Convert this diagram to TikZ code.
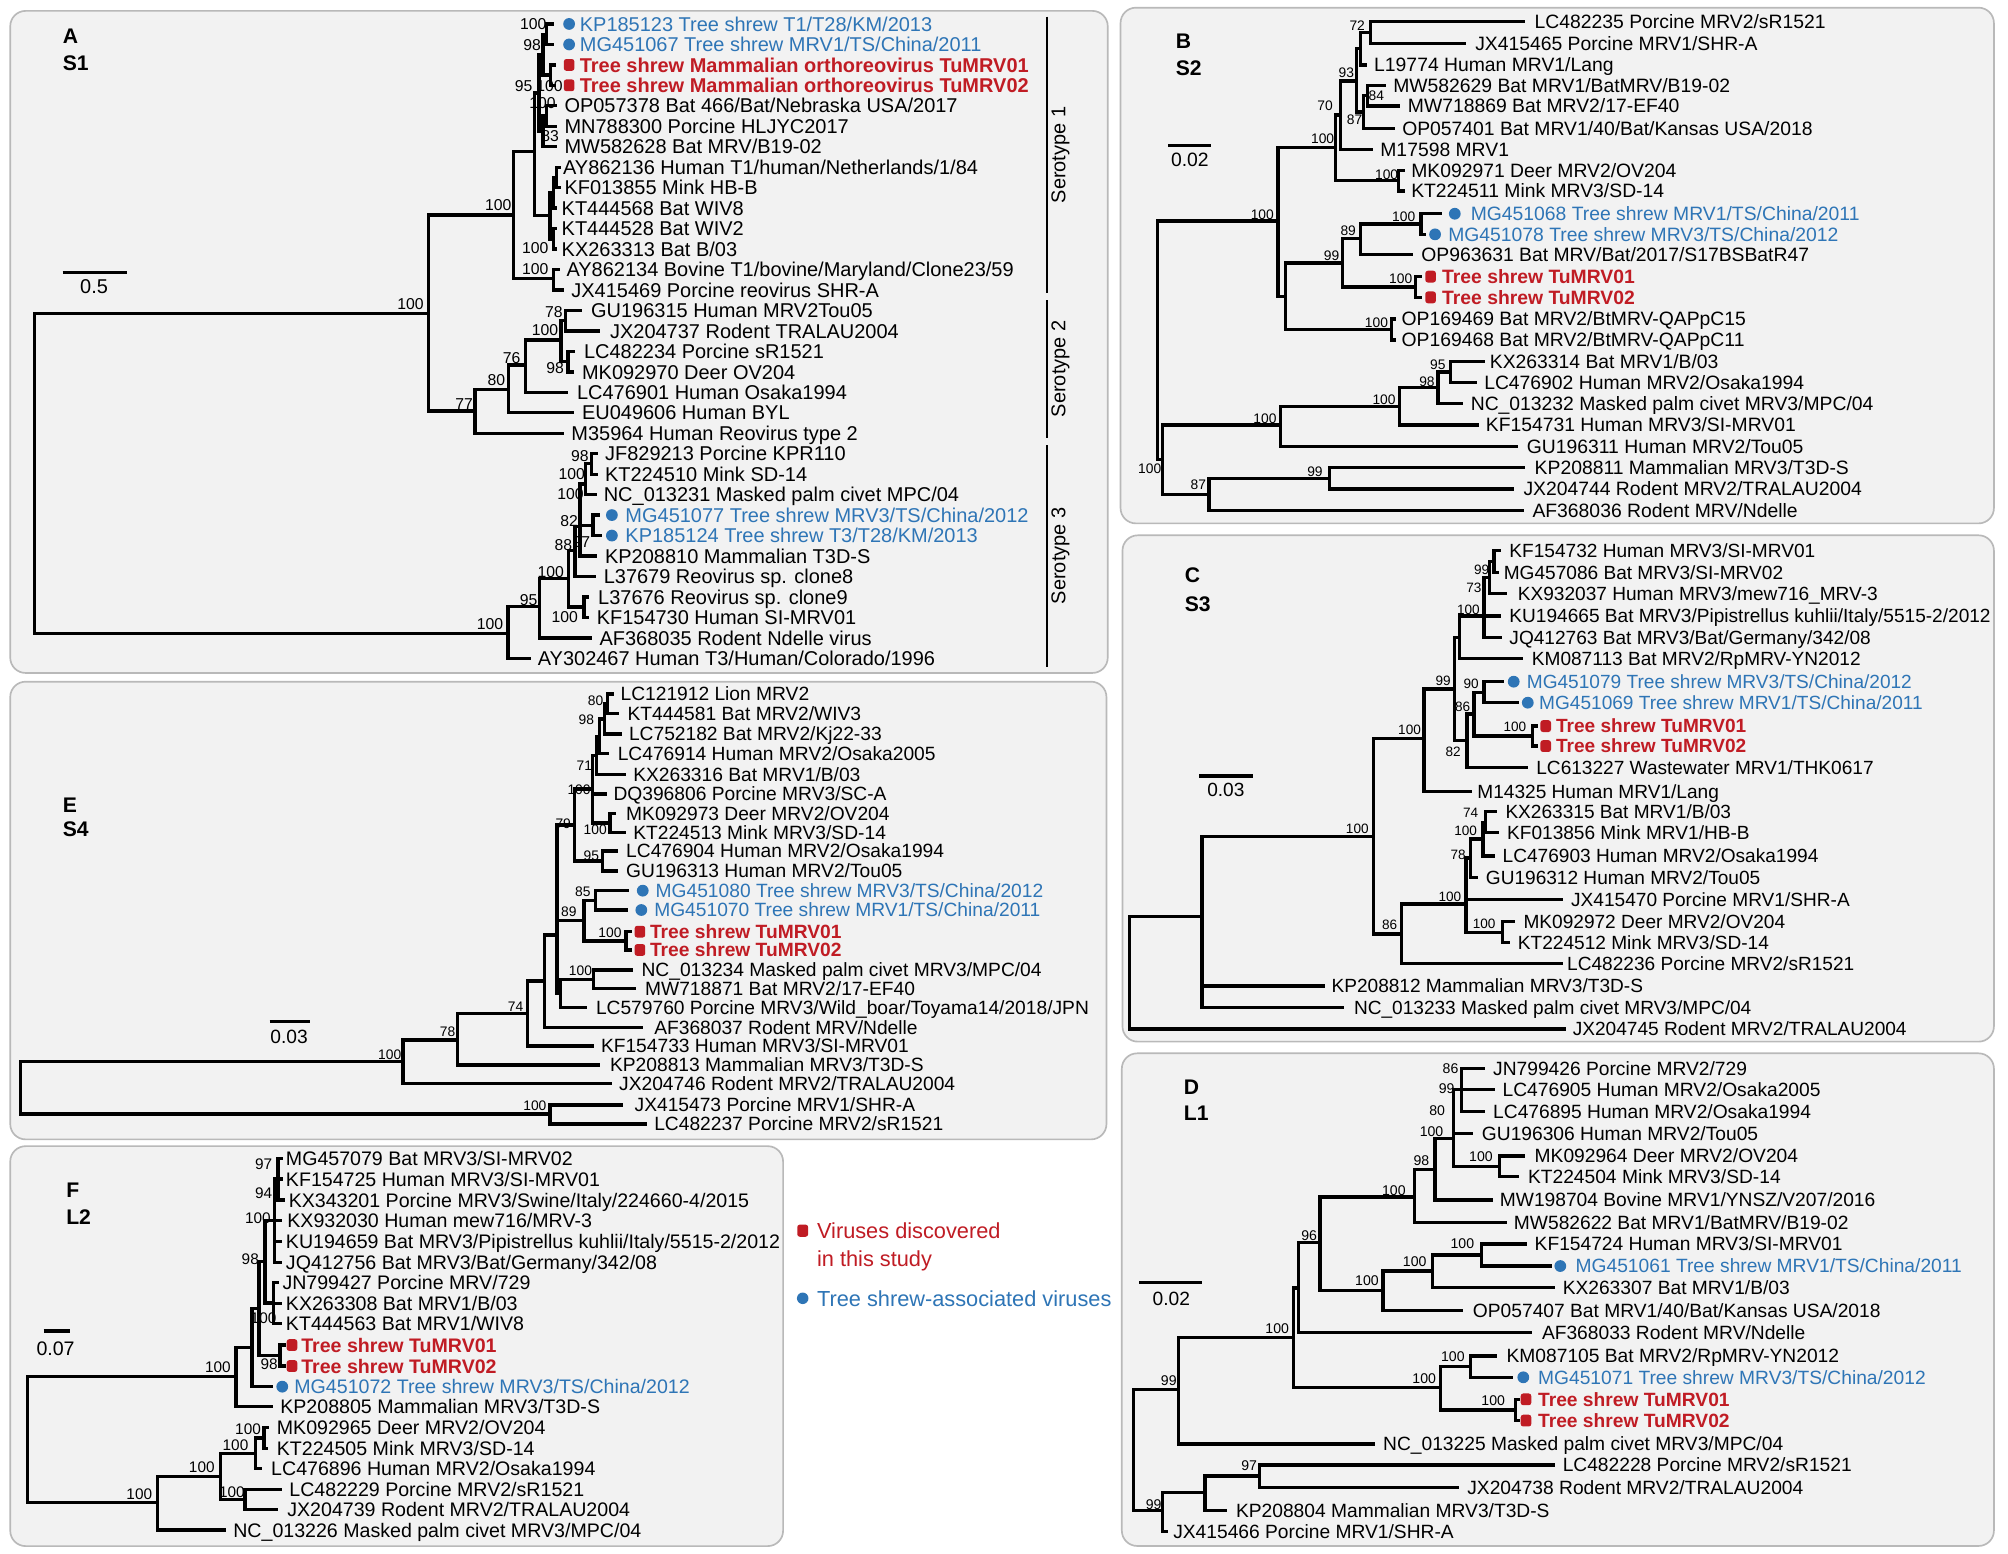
\documentclass[tikz,border=0pt]{standalone}
\usepackage{fontspec}
\setmainfont{Liberation Sans}
\definecolor{tsred}{RGB}{192,28,36}
\definecolor{tsblue}{RGB}{46,117,182}
\definecolor{panelfill}{RGB}{242,242,242}
\definecolor{panelline}{RGB}{185,185,185}
\newcounter{nc}
\def\lffont{\fontsize{15}{18}\selectfont}
\def\bsfont{\fontsize{10}{12}\selectfont}
\def\lsh{5.4}
\def\bsh{3.6}
\tikzset{
  tree/.style={line width=2.6pt, line cap=rect, line join=miter},
  leaf/.style={anchor=base west, inner sep=0pt, font=\lffont},
  bsl/.style={anchor=base east, inner sep=0pt, font=\bsfont},
  panel/.style={draw=panelline, fill=panelfill, line width=1.3pt, rounded corners=12pt},
  plet/.style={anchor=base west, inner sep=0pt, font=\bfseries\fontsize{16.5}{19}\selectfont},
  rdot/.style={fill=tsred, rounded corners=2pt, minimum width=8.3pt, minimum height=9.2pt, inner sep=0pt},
  bdot/.style={fill=tsblue, circle, minimum size=9.2pt, inner sep=0pt},
  sbar/.style={line width=2.6pt},
}
\newcommand\lfk[3]{\stepcounter{nc}\node[leaf] (n\arabic{nc}) at (#1,#2+\lsh) {#3};}
\newcommand\lfb[4]{\stepcounter{nc}\node[bdot] (d\arabic{nc}) at (#1,#2) {};\node[leaf,text=tsblue] (n\arabic{nc}) at (#3,#2+\lsh) {#4};}
\newcommand\lfr[4]{\stepcounter{nc}\node[rdot] (d\arabic{nc}) at (#1,#2) {};\node[leaf,text=tsred,font=\lffont\bfseries] (n\arabic{nc}) at (#3,#2+\lsh) {#4};}
\newcommand\bsv[3]{\stepcounter{nc}\node[bsl] (b\arabic{nc}) at (#1,#2+\bsh) {#3};}
\newcommand\sclab[3]{\stepcounter{nc}\node[anchor=base,inner sep=0pt,font=\lffont] (s\arabic{nc}) at (#1,#2+\lsh) {#3};}
\newcommand\plab[3]{\stepcounter{nc}\node[plet] (p\arabic{nc}) at (#1,#2+5.9) {#3};}
\begin{document}
\begin{tikzpicture}[x=1pt,y=-1pt]
\fill[white] (0,0) rectangle (1568,1213);
\useasboundingbox (0,0) rectangle (1568,1213);
% panels
\draw[panel] (8,8.5) rectangle (865,525.5);
\draw[panel] (875,6) rectangle (1557,408.7);
\draw[panel] (876.5,418) rectangle (1557,813.4);
\draw[panel] (876,822.5) rectangle (1557,1207.2);
\draw[panel] (8,532.3) rectangle (864,889.7);
\draw[panel] (8,895) rectangle (611.5,1207.3);

%%%%%%%%%%%%%%%% PANEL A
\def\lffont{\fontsize{15.6}{18}\selectfont}\def\lsh{5.58}
\def\bsfont{\fontsize{12.3}{14}\selectfont}\def\bsh{4.4}
\plab{48.9}{28}{A}
\plab{48.9}{49.5}{S1}
\draw[sbar] (48.9,212.9) -- (99.3,212.9);
\sclab{73.5}{223.9}{0.5}
% tree
\draw[tree] (334.8,244.7) -| (27,494.6) -- (396.8,494.6);
\draw[tree] (401.1,167.9) -| (334.8,321) -- (371,321);
\draw[tree] (417.6,118.4) -| (401.1,217.4) -- (432.4,217.4);
\draw[tree] (436,210.5) -| (432.4,226.4) -- (439,226.4);
\draw[tree] (421,72.6) -| (417.6,168.5) -- (429.6,168.5);
\draw[tree] (432,150.5) -| (429.6,186.5) -- (432,186.5);
\draw[tree] (434.5,138.5) -| (432,162.5) -- (433.5,162.5);
\draw[tree] (436.5,130.6) -| (434.5,146.5) -- (436.5,146.5);
\draw[tree] (434,178.5) -| (432,194.5) -- (434,194.5);
\draw[tree] (424,42.7) -| (421,102.6) -- (424,102.6);
\draw[tree] (427,26.7) -| (424,58.6) -- (430,58.6);
\draw[tree] (431,18.7) -| (427,34.7) -- (431,34.7);
\draw[tree] (433,50.7) -| (430,66.6) -- (433,66.6);
\draw[tree] (427,90.6) -| (424,114.6) -- (434,114.6);
\draw[tree] (434,82.6) -| (427,98.6) -- (434,98.6);
% serotype 2
\draw[tree] (397,304) -| (371,338.3) -- (439,338.3);
\draw[tree] (410.4,285) -| (397,322.3) -- (447,322.3);
\draw[tree] (438,265.5) -| (410.4,306.3) -- (442,306.3);
\draw[tree] (441.5,250.4) -| (438,282.4) -- (443.5,282.4);
\draw[tree] (453,242.4) -| (441.5,258.4) -- (467,258.4);
\draw[tree] (448,274.4) -| (443.5,290.4) -- (447,290.4);
% serotype 3
\draw[tree] (421.4,473.8) -| (396.8,514.1) -- (413.2,514.1);
\draw[tree] (444,451.6) -| (421.4,498.1) -- (461,498.1);
\draw[tree] (449,430) -| (444,474) -- (455.9,474);
\draw[tree] (459,466.1) -| (455.9,482.1) -- (459,482.1);
\draw[tree] (453,411) -| (449,450.2) -- (464,450.2);
\draw[tree] (457,378) -| (453,434.2) -- (465,434.2);
\draw[tree] (453,410.2) -- (463,410.2);
\draw[tree] (467,402.2) -| (463,418.2) -- (469,418.2);
\draw[tree] (462,362) -| (457,386.2) -- (465,386.2);
\draw[tree] (466,354.3) -| (462,370.3) -- (466,370.3);
% leaves
\lfb{444.4}{18.7}{452.6}{KP185123 Tree shrew T1/T28/KM/2013}
\lfb{444.4}{34.7}{452.6}{MG451067 Tree shrew MRV1/TS/China/2011}
\lfr{444.4}{50.7}{452.6}{Tree shrew Mammalian orthoreovirus TuMRV01}
\lfr{444.4}{66.6}{452.6}{Tree shrew Mammalian orthoreovirus TuMRV02}
\lfk{440.6}{82.6}{OP057378 Bat 466/Bat/Nebraska USA/2017}
\lfk{440.6}{98.6}{MN788300 Porcine HLJYC2017}
\lfk{440.6}{114.6}{MW582628 Bat MRV/B19-02}
\lfk{439.5}{130.6}{AY862136 Human T1/human/Netherlands/1/84}
\lfk{440.6}{146.5}{KF013855 Mink HB-B}
\lfk{438.4}{162.5}{KT444568 Bat WIV8}
\lfk{438.4}{178.5}{KT444528 Bat WIV2}
\lfk{438.4}{194.5}{KX263313 Bat B/03}
\lfk{442.2}{210.5}{AY862134 Bovine T1/bovine/Maryland/Clone23/59}
\lfk{446}{226.4}{JX415469 Porcine reovirus SHR-A}
\lfk{461.4}{242.4}{GU196315 Human MRV2Tou05}
\lfk{476.2}{258.4}{JX204737 Rodent TRALAU2004}
\lfk{455.9}{274.4}{LC482234 Porcine sR1521}
\lfk{454.3}{290.4}{MK092970 Deer OV204}
\lfk{450.4}{306.3}{LC476901 Human Osaka1994}
\lfk{454.3}{322.3}{EU049606 Human BYL}
\lfk{446}{338.3}{M35964 Human Reovirus type 2}
\lfk{472.3}{354.3}{JF829213 Porcine KPR110}
\lfk{472.3}{370.3}{KT224510 Mink SD-14}
\lfk{471.3}{386.2}{NC\_013231 Masked palm civet MPC/04}
\lfb{477.8}{402.2}{488.2}{MG451077 Tree shrew MRV3/TS/China/2012}
\lfb{477.8}{418.2}{488.2}{KP185124 Tree shrew T3/T28/KM/2013}
\lfk{472.3}{434.2}{KP208810 Mammalian T3D-S}
\lfk{471.3}{450.2}{L37679 Reovirus sp. clone8}
\lfk{466.9}{466.1}{L37676 Reovirus sp. clone9}
\lfk{465.8}{482.1}{KF154730 Human SI-MRV01}
\lfk{468}{498.1}{AF368035 Rodent Ndelle virus}
\lfk{419.8}{514.1}{AY302467 Human T3/Human/Colorado/1996}
% bootstrap
\bsv{426.9}{18.7}{100}
\bsv{422.5}{35.1}{98}
\bsv{416}{67.2}{95}
\bsv{439.5}{67.2}{100}
\bsv{434}{80.2}{100}
\bsv{436.7}{106.2}{83}
\bsv{399.5}{160.1}{100}
\bsv{428.5}{193.9}{100}
\bsv{428.5}{210.3}{100}
\bsv{331}{236.9}{100}
\bsv{439.5}{243.4}{78}
\bsv{436}{257.2}{100}
\bsv{406.6}{279.8}{76}
\bsv{440.6}{287.6}{98}
\bsv{394.6}{296.8}{80}
\bsv{369.4}{315}{77}
\bsv{459.8}{356}{98}
\bsv{457}{370.2}{100}
\bsv{456}{385.3}{100}
\bsv{451.5}{406.6}{82}
\bsv{461}{423}{97}
\bsv{447}{425.6}{88}
\bsv{440.6}{446.4}{100}
\bsv{419.8}{468.6}{95}
\bsv{451.5}{481.6}{100}
\bsv{393}{486.8}{100}
% serotype bars
\draw[line width=2pt] (817.5,13) -- (817.5,229);
\draw[line width=2pt] (817.5,234.3) -- (817.5,342.3);
\draw[line width=2pt] (817.5,347.5) -- (817.5,520.6);
\node[rotate=90,inner sep=0pt,font=\lffont] (st1) at (828,121) {Serotype 1};
\node[rotate=90,inner sep=0pt,font=\lffont] (st2) at (828,288) {Serotype 2};
\node[rotate=90,inner sep=0pt,font=\lffont] (st3) at (828,434) {Serotype 3};

%%%%%%%%%%%%%%%% PANEL B
\def\lffont{\fontsize{15.1}{18}\selectfont}\def\lsh{5.4}
\def\bsfont{\fontsize{10.8}{12}\selectfont}\def\bsh{3.87}
\plab{918}{32}{B}
\plab{918}{53.2}{S2}
\draw[sbar] (912.4,113.5) -- (945.3,113.5);
\sclab{929.1}{125}{0.02}
\draw[tree] (998,172.6) -| (903.7,359) -- (908,359);
\draw[tree] (1000.1,331.8) -| (908,386) -- (944,386);
\draw[tree] (1093,317.3) -| (1000.1,348.8) -- (1184.2,348.8);
\draw[tree] (1122.8,302.7) -| (1093,331.8) -- (1153.5,331.8);
\draw[tree] (1132.5,290.6) -| (1122.8,314.9) -- (1141.2,314.9);
\draw[tree] (1157.9,282.4) -| (1132.5,298.8) -- (1152.2,298.8);
\draw[tree] (1038.2,373.5) -| (944,398.7) -- (1188.6,398.7);
\draw[tree] (1189.5,365.2) -| (1038.2,381.8) -- (1180.7,381.8);
\draw[tree] (1043,115.3) -| (998,231.6) -- (1003.6,231.6);
\draw[tree] (1048.3,205.3) -| (1003.6,257.3) -- (1086.5,257.3);
\draw[tree] (1062.3,186.3) -| (1048.3,224.1) -- (1105.3,224.1);
\draw[tree] (1109.7,175) -| (1062.3,198.6) -- (1101.8,198.6);
\draw[tree] (1125,166.9) -| (1109.7,183) -- (1112,183);
\draw[tree] (1109,216) -| (1105.3,232.2) -- (1109,232.2);
\draw[tree] (1089,249.1) -| (1086.5,265.5) -- (1089,265.5);
\draw[tree] (1046.5,89.9) -| (1043,141.1) -- (1092.2,141.1);
\draw[tree] (1096,133) -| (1092.2,149.2) -- (1096,149.2);
\draw[tree] (1059.3,63.2) -| (1046.5,116.6) -- (1071,116.6);
\draw[tree] (1062.5,38) -| (1059.3,87.4) -- (1064.5,87.4);
\draw[tree] (1070.2,25.3) -| (1062.5,50.8) -- (1066,50.8);
\draw[tree] (1189.5,16.9) -| (1070.2,33.8) -- (1143.4,33.8);
\draw[tree] (1068,74.7) -| (1064.5,100.2) -- (1087.8,100.2);
\draw[tree] (1081,66.6) -| (1068,82.8) -- (1092,82.8);
\lfk{1198.2}{16.9}{LC482235 Porcine MRV2/sR1521}
\lfk{1151.8}{33.8}{JX415465 Porcine MRV1/SHR-A}
\lfk{1072.9}{50.8}{L19774 Human MRV1/Lang}
\lfk{1087.8}{66.6}{MW582629 Bat MRV1/BatMRV/B19-02}
\lfk{1099.2}{82.8}{MW718869 Bat MRV2/17-EF40}
\lfk{1094.8}{100.2}{OP057401 Bat MRV1/40/Bat/Kansas USA/2018}
\lfk{1077.7}{116.6}{M17598 MRV1}
\lfk{1101.8}{133}{MK092971 Deer MRV2/OV204}
\lfk{1101.8}{149.2}{KT224511 Mink MRV3/SD-14}
\lfb{1136}{166.9}{1148.3}{MG451068 Tree shrew MRV1/TS/China/2011}
\lfb{1120.6}{183}{1130.7}{MG451078 Tree shrew MRV3/TS/China/2012}
\lfk{1109.7}{198.6}{OP963631 Bat MRV/Bat/2017/S17BSBatR47}
\lfr{1117.1}{216}{1125.9}{Tree shrew TuMRV01}
\lfr{1117.1}{232.2}{1125.9}{Tree shrew TuMRV02}
\lfk{1094.3}{249.1}{OP169469 Bat MRV2/BtMRV-QAPpC15}
\lfk{1094.3}{265.5}{OP169468 Bat MRV2/BtMRV-QAPpC11}
\lfk{1163.2}{282.4}{KX263314 Bat MRV1/B/03}
\lfk{1158.8}{298.8}{LC476902 Human MRV2/Osaka1994}
\lfk{1148.3}{314.9}{NC\_013232 Masked palm civet MRV3/MPC/04}
\lfk{1160.1}{331.8}{KF154731 Human MRV3/SI-MRV01}
\lfk{1192.1}{348.8}{GU196311 Human MRV2/Tou05}
\lfk{1198.2}{365.2}{KP208811 Mammalian MRV3/T3D-S}
\lfk{1189.5}{381.8}{JX204744 Rodent MRV2/TRALAU2004}
\lfk{1196.5}{398.7}{AF368036 Rodent MRV/Ndelle}
\bsv{1066}{19.8}{72}
\bsv{1057.5}{56.7}{93}
\bsv{1081}{74.4}{84}
\bsv{1041}{82.8}{70}
\bsv{1064}{93.2}{87}
\bsv{1042}{108}{100}
\bsv{1092}{136}{100}
\bsv{994.9}{167.4}{100}
\bsv{1105.3}{168.7}{100}
\bsv{1059}{180.4}{89}
\bsv{1046}{199.9}{99}
\bsv{1103}{217.8}{100}
\bsv{1084}{251.7}{100}
\bsv{1129}{284.9}{95}
\bsv{1120.5}{298}{98}
\bsv{1090}{311.8}{100}
\bsv{997}{326.6}{100}
\bsv{1033}{368.3}{99}
\bsv{907}{365.7}{100}
\bsv{942}{378.5}{87}

%%%%%%%%%%%%%%%% PANEL C
\def\lffont{\fontsize{14.9}{18}\selectfont}\def\lsh{5.33}
\def\bsfont{\fontsize{10.6}{12}\selectfont}\def\bsh{3.8}
\plab{925}{449}{C}
\plab{925}{471.6}{S3}
\draw[sbar] (936.6,606) -- (978.2,606);
\sclab{957.2}{616.9}{0.03}
\draw[tree] (938.7,715.8) -| (881.8,803.5) -- (1221.5,803.5);
\draw[tree] (1072.4,653.3) -| (938.7,786.6) -- (1048.3,786.6);
\draw[tree] (938.7,770) -- (1033,770);
\draw[tree] (1111.9,576.6) -| (1072.4,729.3) -- (1094.3,729.3);
\draw[tree] (1144.7,706) -| (1094.3,752.3) -- (1219.3,752.3);
\draw[tree] (1148.3,670) -| (1144.7,727.9) -- (1173.2,727.9);
\draw[tree] (1144.7,702.3) -- (1219.3,702.3);
\draw[tree] (1182,719.7) -| (1173.2,736.1) -- (1178,736.1);
\draw[tree] (1157.9,655.2) -| (1148.3,685.1) -- (1153,685.1);
\draw[tree] (1160,642) -| (1157.9,668.4) -- (1166,668.4);
\draw[tree] (1168,633.8) -| (1160,650.2) -- (1169,650.2);
\draw[tree] (1136,538) -| (1111.9,618.2) -- (1148.3,618.2);
\draw[tree] (1139.5,497.6) -| (1136,578.4) -- (1145.6,578.4);
\draw[tree] (1158.8,481.1) -| (1139.5,514.1) -- (1187.7,514.1);
\draw[tree] (1163,451) -| (1158.8,497.7) -- (1171.5,497.7);
\draw[tree] (1158.8,481.1) -- (1171,481.1);
\draw[tree] (1166.7,438.5) -| (1163,463.4) -- (1175.4,463.4);
\draw[tree] (1171,430) -| (1166.7,447) -- (1169,447);
\draw[tree] (1151,557.6) -| (1145.6,599.2) -- (1192.1,599.2);
\draw[tree] (1158.8,540.5) -| (1151,574.8) -- (1196.5,574.8);
\draw[tree] (1173,532.3) -| (1158.8,548.7) -- (1185,548.7);
\draw[tree] (1200,567) -| (1196.5,582.6) -- (1200,582.6);
\lfk{1178.5}{430}{KF154732 Human MRV3/SI-MRV01}
\lfk{1174.1}{447}{MG457086 Bat MRV3/SI-MRV02}
\lfk{1185.1}{463.4}{KX932037 Human MRV3/mew716\_MRV-3}
\lfk{1178.5}{481.1}{KU194665 Bat MRV3/Pipistrellus kuhlii/Italy/5515-2/2012}
\lfk{1178.5}{497.7}{JQ412763 Bat MRV3/Bat/Germany/342/08}
\lfk{1196}{514.1}{KM087113 Bat MRV2/RpMRV-YN2012}
\lfb{1182}{532.3}{1192.1}{MG451079 Tree shrew MRV3/TS/China/2012}
\lfb{1193}{548.7}{1201.7}{MG451069 Tree shrew MRV1/TS/China/2011}
\lfr{1207}{567}{1214.9}{Tree shrew TuMRV01}
\lfr{1207}{582.6}{1214.9}{Tree shrew TuMRV02}
\lfk{1199.5}{599.2}{LC613227 Wastewater MRV1/THK0617}
\lfk{1153.5}{618.2}{M14325 Human MRV1/Lang}
\lfk{1175.4}{633.8}{KX263315 Bat MRV1/B/03}
\lfk{1176.7}{650.2}{KF013856 Mink MRV1/HB-B}
\lfk{1173.2}{668.4}{LC476903 Human MRV2/Osaka1994}
\lfk{1160.1}{685.1}{GU196312 Human MRV2/Tou05}
\lfk{1226.7}{702.3}{JX415470 Porcine MRV1/SHR-A}
\lfk{1189.5}{719.7}{MK092972 Deer MRV2/OV204}
\lfk{1185.1}{736.1}{KT224512 Mink MRV3/SD-14}
\lfk{1223.6}{752.3}{LC482236 Porcine MRV2/sR1521}
\lfk{1039.6}{770}{KP208812 Mammalian MRV3/T3D-S}
\lfk{1057.1}{786.6}{NC\_013233 Masked palm civet MRV3/MPC/04}
\lfk{1228}{803.5}{JX204745 Rodent MRV2/TRALAU2004}
\bsv{1163}{445.1}{99}
\bsv{1157}{458.7}{73}
\bsv{1155.7}{475.9}{100}
\bsv{1133}{531.5}{99}
\bsv{1154.8}{534.2}{90}
\bsv{1148.3}{551.9}{86}
\bsv{1192}{567.5}{100}
\bsv{1140.8}{587}{82}
\bsv{1109.7}{570.1}{100}
\bsv{1154.4}{634.6}{74}
\bsv{1153.5}{648.7}{100}
\bsv{1144.7}{667.7}{78}
\bsv{1141.2}{700.2}{100}
\bsv{1168}{721}{100}
\bsv{1091.3}{722.3}{86}
\bsv{1068.9}{646.8}{100}

%%%%%%%%%%%%%%%% PANEL D
\def\lffont{\fontsize{15}{18}\selectfont}\def\lsh{5.37}
\def\bsfont{\fontsize{11}{12}\selectfont}\def\bsh{3.94}
\plab{924.3}{848.5}{D}
\plab{924.3}{869.4}{L1}
\draw[sbar] (889.7,1001.3) -- (938.7,1001.3);
\sclab{914.6}{1013.8}{0.02}
\draw[tree] (920.3,1084.9) -| (885.3,1179.6) -- (908,1179.6);
\draw[tree] (940.9,1165.6) -| (908,1196) -- (911,1196);
\draw[tree] (983.4,1152.6) -| (940.9,1179.6) -- (957.2,1179.6);
\draw[tree] (1212.7,1143.9) -| (983.4,1161.4) -- (1138.2,1161.4);
\draw[tree] (1009.8,1044.3) -| (920.3,1127.5) -- (1072.4,1127.5);
\draw[tree] (1014.1,1005.8) -| (1009.8,1083.5) -- (1125,1083.5);
\draw[tree] (1030.8,970.4) -| (1014.1,1040.6) -- (1195.2,1040.6);
\draw[tree] (1104.4,934.8) -| (1030.8,1007.6) -- (1079.9,1007.6);
\draw[tree] (1120.6,913) -| (1104.4,954.7) -- (1175.4,954.7);
\draw[tree] (1135.1,888.9) -| (1120.6,937) -- (1164.5,937);
\draw[tree] (1141.2,851) -| (1135.1,910.8) -- (1171,910.8);
\draw[tree] (1135.1,885) -- (1149.1,885);
\draw[tree] (1157.9,834.2) -| (1141.2,868.1) -- (1157.9,868.1);
\draw[tree] (1141.2,850.6) -- (1165.8,850.6);
\draw[tree] (1189.5,902.7) -| (1171,918.8) -- (1185.1,918.8);
\draw[tree] (1118.4,992.6) -| (1079.9,1023.4) -- (1141.2,1023.4);
\draw[tree] (1157,980) -| (1118.4,1005.2) -- (1212.7,1005.2);
\draw[tree] (1190.8,971.4) -| (1157,988.6) -- (1210.5,988.6);
\draw[tree] (1148.3,1067.2) -| (1125,1101) -- (1183.3,1101);
\draw[tree] (1167.5,1058.8) -| (1148.3,1075.5) -- (1179.8,1075.5);
\draw[tree] (1186,1092.7) -| (1183.3,1109.3) -- (1186,1109.3);
\lfk{1165.8}{834.2}{JN799426 Porcine MRV2/729}
\lfk{1173.2}{850.6}{LC476905 Human MRV2/Osaka2005}
\lfk{1165.8}{868.1}{LC476895 Human MRV2/Osaka1994}
\lfk{1157}{885}{GU196306 Human MRV2/Tou05}
\lfk{1198.2}{902.7}{MK092964 Deer MRV2/OV204}
\lfk{1193}{918.8}{KT224504 Mink MRV3/SD-14}
\lfk{1171}{937}{MW198704 Bovine MRV1/YNSZ/V207/2016}
\lfk{1182}{954.7}{MW582622 Bat MRV1/BatMRV/B19-02}
\lfk{1198.2}{971.4}{KF154724 Human MRV3/SI-MRV01}
\lfb{1218.4}{988.6}{1230.2}{MG451061 Tree shrew MRV1/TS/China/2011}
\lfk{1220.1}{1005.2}{KX263307 Bat MRV1/B/03}
\lfk{1150}{1023.4}{OP057407 Bat MRV1/40/Bat/Kansas USA/2018}
\lfk{1203.9}{1040.6}{AF368033 Rodent MRV/Ndelle}
\lfk{1176.3}{1058.8}{KM087105 Bat MRV2/RpMRV-YN2012}
\lfb{1189.5}{1075.5}{1200.9}{MG451071 Tree shrew MRV3/TS/China/2012}
\lfr{1191.6}{1092.7}{1200.9}{Tree shrew TuMRV01}
\lfr{1191.6}{1109.3}{1200.9}{Tree shrew TuMRV02}
\lfk{1079.9}{1127.5}{NC\_013225 Masked palm civet MRV3/MPC/04}
\lfk{1220.1}{1143.9}{LC482228 Porcine MRV2/sR1521}
\lfk{1145.6}{1161.4}{JX204738 Rodent MRV2/TRALAU2004}
\lfk{965}{1179.6}{KP208804 Mammalian MRV3/T3D-S}
\lfk{916}{1196}{JX415466 Porcine MRV1/SHR-A}
\bsv{1139}{834.2}{86}
\bsv{1136}{849.8}{99}
\bsv{1128.5}{867.3}{80}
\bsv{1127.2}{883.7}{100}
\bsv{1165.8}{903.2}{100}
\bsv{1116.3}{905.8}{98}
\bsv{1097.8}{929.2}{100}
\bsv{1028.6}{964.4}{96}
\bsv{1151.3}{970.9}{100}
\bsv{1114.1}{985.2}{100}
\bsv{1076.8}{999.5}{100}
\bsv{1006.7}{1037.2}{100}
\bsv{1143.9}{1059.3}{100}
\bsv{1121.5}{1076.3}{100}
\bsv{919}{1077.6}{99}
\bsv{1175.4}{1093.2}{100}
\bsv{981.7}{1144.7}{97}
\bsv{907.2}{1174.4}{99}

%%%%%%%%%%%%%%%% PANEL E
\def\lffont{\fontsize{15}{18}\selectfont}\def\lsh{5.37}
\def\bsfont{\fontsize{10.8}{12}\selectfont}\def\bsh{3.87}
\plab{48.9}{628.6}{E}
\plab{48.9}{647.1}{S4}
\draw[sbar] (210.5,797.8) -- (242.3,797.8);
\sclab{225.8}{809.5}{0.03}
\draw[tree] (314.6,829) -| (16,869.9) -- (429.6,869.9);
\draw[tree] (485.5,862.9) -| (429.6,877.7) -- (503.6,877.7);
\draw[tree] (357.3,812.1) -| (314.6,846) -- (476.2,846);
\draw[tree] (412.1,791.3) -| (357.3,831.6) -- (466.9,831.6);
\draw[tree] (425.2,766) -| (412.1,816.8) -- (462.5,816.8);
\draw[tree] (435,730) -| (425.2,802.2) -- (500.8,802.2);
\draw[tree] (448.8,644.3) -| (435,775.8) -- (437.8,775.8);
\draw[tree] (435,718.9) -- (455.9,718.9);
\draw[tree] (463.6,764.6) -| (437.8,786.9) -- (457,786.9);
\draw[tree] (492.6,757.5) -| (463.6,771.8) -- (495.4,771.8);
\draw[tree] (465.2,703) -| (455.9,734.7) -- (488.8,734.7);
\draw[tree] (489.9,695.5) -| (465.2,710.6) -- (488.8,710.6);
\draw[tree] (492,727.5) -| (488.8,741.8) -- (492,741.8);
\draw[tree] (462.5,616.2) -| (448.8,672.4) -- (470.7,672.4);
\draw[tree] (481,664.5) -| (470.7,680.2) -- (481,680.2);
\draw[tree] (466,589.8) -| (462.5,642.6) -- (476.2,642.6);
\draw[tree] (462.5,620) -- (472.3,620);
\draw[tree] (480,635.1) -| (476.2,650) -- (487.8,650);
\draw[tree] (468,574.9) -| (466,604.7) -- (487.8,604.7);
\draw[tree] (472,561.4) -| (468,588.3) -- (474.5,588.3);
\draw[tree] (474.5,549.5) -| (472,573.2) -- (484.4,573.2);
\draw[tree] (478,541.9) -| (474.5,557) -- (481.7,557);
\lfk{484.4}{541.9}{LC121912 Lion MRV2}
\lfk{489.9}{557}{KT444581 Bat MRV2/WIV3}
\lfk{491}{573.2}{LC752182 Bat MRV2/Kj22-33}
\lfk{482.2}{588.3}{LC476914 Human MRV2/Osaka2005}
\lfk{494.3}{604.7}{KX263316 Bat MRV1/B/03}
\lfk{478.9}{620}{DQ396806 Porcine MRV3/SC-A}
\lfk{488.8}{635.1}{MK092973 Deer MRV2/OV204}
\lfk{494.3}{650}{KT224513 Mink MRV3/SD-14}
\lfk{488.8}{664.5}{LC476904 Human MRV2/Osaka1994}
\lfk{488.8}{680.2}{GU196313 Human MRV2/Tou05}
\lfb{501.9}{695.5}{511.8}{MG451080 Tree shrew MRV3/TS/China/2012}
\lfb{500.8}{710.6}{510.7}{MG451070 Tree shrew MRV1/TS/China/2011}
\lfr{499.7}{727.5}{507.4}{Tree shrew TuMRV01}
\lfr{499.7}{741.8}{507.4}{Tree shrew TuMRV02}
\lfk{500.8}{757.5}{NC\_013234 Masked palm civet MRV3/MPC/04}
\lfk{503.6}{771.8}{MW718871 Bat MRV2/17-EF40}
\lfk{465.2}{786.9}{LC579760 Porcine MRV3/Wild\_boar/Toyama14/2018/JPN}
\lfk{510.7}{802.2}{AF368037 Rodent MRV/Ndelle}
\lfk{469.1}{816.8}{KF154733 Human MRV3/SI-MRV01}
\lfk{476.2}{831.6}{KP208813 Mammalian MRV3/T3D-S}
\lfk{483.3}{846}{JX204746 Rodent MRV2/TRALAU2004}
\lfk{495.4}{862.9}{JX415473 Porcine MRV1/SHR-A}
\lfk{510.7}{877.7}{LC482237 Porcine MRV2/sR1521}
\bsv{471.3}{547.1}{80}
\bsv{464.1}{561.7}{98}
\bsv{462.5}{597.4}{71}
\bsv{461.4}{616.4}{100}
\bsv{474}{648.1}{100}
\bsv{446}{642.9}{79}
\bsv{468}{667.7}{95}
\bsv{461.4}{696.3}{85}
\bsv{450.4}{711.9}{89}
\bsv{485.5}{728.3}{100}
\bsv{462.5}{757.5}{100}
\bsv{408.8}{786.1}{74}
\bsv{355.7}{805.6}{78}
\bsv{313.5}{823.8}{100}
\bsv{426.9}{862.9}{100}

%%%%%%%%%%%%%%%% PANEL F
\def\lffont{\fontsize{15.3}{18}\selectfont}\def\lsh{5.48}
\def\bsfont{\fontsize{12}{14}\selectfont}\def\bsh{4.3}
\plab{51.6}{929.2}{F}
\plab{51.6}{950.6}{L2}
\draw[sbar] (34.1,1039.4) -- (54.4,1039.4);
\sclab{43.4}{1052.9}{0.07}
\draw[tree] (184.2,1075) -| (21.5,1173.4) -- (122.8,1173.4);
\draw[tree] (196.8,1052) -| (184.2,1098.4) -- (211.6,1098.4);
\draw[tree] (202.3,1021.5) -| (196.8,1082.8) -- (211.6,1082.8);
\draw[tree] (207,985) -| (202.3,1058.5) -- (218.7,1058.5);
\draw[tree] (222,1050.3) -| (218.7,1066.7) -- (222,1066.7);
\draw[tree] (214.5,953) -| (207,1017.5) -- (213.5,1017.5);
\draw[tree] (217,920.7) -| (214.5,985.7) -- (219,985.7);
\draw[tree] (214.5,953.2) -- (219,953.2);
\draw[tree] (214.5,969.6) -- (219,969.6);
\draw[tree] (220,904.5) -| (217,937.1) -- (221,937.1);
\draw[tree] (217,920.7) -- (220,920.7);
\draw[tree] (216.5,1001.6) -| (213.5,1033.4) -- (219,1033.4);
\draw[tree] (213.5,1017.7) -- (219,1017.7);
\draw[tree] (172.2,1152.9) -| (122.8,1194.8) -- (174.9,1194.8);
\draw[tree] (199.5,1134.9) -| (172.2,1170.8) -- (191.3,1170.8);
\draw[tree] (206.1,1122.8) -| (199.5,1146.6) -- (203.4,1146.6);
\draw[tree] (209,1114.6) -| (206.1,1131) -- (208,1131);
\draw[tree] (218.7,1163) -| (191.3,1178.6) -- (216,1178.6);
\lfk{223.1}{904.5}{MG457079 Bat MRV3/SI-MRV02}
\lfk{223.1}{920.7}{KF154725 Human MRV3/SI-MRV01}
\lfk{225.3}{937.1}{KX343201 Porcine MRV3/Swine/Italy/224660-4/2015}
\lfk{224.2}{953.2}{KX932030 Human mew716/MRV-3}
\lfk{223.1}{969.6}{KU194659 Bat MRV3/Pipistrellus kuhlii/Italy/5515-2/2012}
\lfk{223.1}{985.7}{JQ412756 Bat MRV3/Bat/Germany/342/08}
\lfk{220.4}{1001.6}{JN799427 Porcine MRV/729}
\lfk{223.1}{1017.7}{KX263308 Bat MRV1/B/03}
\lfk{223.1}{1033.4}{KT444563 Bat MRV1/WIV8}
\lfr{228}{1050.3}{235.1}{Tree shrew TuMRV01}
\lfr{228}{1066.7}{235.1}{Tree shrew TuMRV02}
\lfb{220.4}{1082.8}{229.7}{MG451072 Tree shrew MRV3/TS/China/2012}
\lfk{218.7}{1098.4}{KP208805 Mammalian MRV3/T3D-S}
\lfk{216}{1114.6}{MK092965 Deer MRV2/OV204}
\lfk{216}{1131}{KT224505 Mink MRV3/SD-14}
\lfk{211.6}{1146.6}{LC476896 Human MRV2/Osaka1994}
\lfk{225.8}{1163}{LC482229 Porcine MRV2/sR1521}
\lfk{224.2}{1178.6}{JX204739 Rodent MRV2/TRALAU2004}
\lfk{182}{1194.8}{NC\_013226 Masked palm civet MRV3/MPC/04}
\bsv{212.7}{909}{97}
\bsv{212.7}{931.3}{94}
\bsv{211.6}{951.4}{100}
\bsv{202.3}{983.4}{98}
\bsv{216}{1029.5}{100}
\bsv{217.1}{1065.1}{98}
\bsv{180.4}{1067.7}{100}
\bsv{203.9}{1116}{100}
\bsv{194.1}{1128.4}{100}
\bsv{167.8}{1145.8}{100}
\bsv{191.3}{1164.8}{100}
\bsv{119}{1166.6}{100}

%%%%%%%%%%%%%%%% LEGEND
\def\lffont{\fontsize{17}{20}\selectfont}\def\lsh{6.1}
\node[rdot,minimum width=8.5pt,minimum height=9.5pt] (lgr) at (626.8,961) {};
\node[leaf,text=tsred] (lgt1) at (637.8,961+\lsh) {Viruses discovered};
\node[leaf,text=tsred] (lgt2) at (637.8,982.6+\lsh) {in this study};
\node[bdot,minimum size=9pt] (lgb) at (626.8,1013.8) {};
\node[leaf,text=tsblue] (lgt3) at (637.8,1013.8+\lsh) {Tree shrew-associated viruses};
\end{tikzpicture}
\end{document}
